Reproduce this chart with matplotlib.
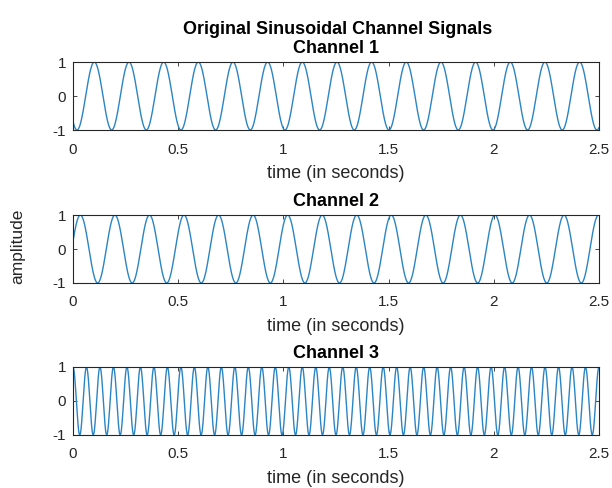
import numpy as np
import matplotlib
matplotlib.use("Agg")
import matplotlib.pyplot as plt

plt.rcParams['font.family'] = ['Liberation Sans', 'DejaVu Sans']

# Signal parameters for the three channels
duration = 2.5
fs = 1000
channel_names = ["Channel 1", "Channel 2", "Channel 3"]
channel_freqs = [6.07, 6.09, 15.6]        # Hz
channel_delays = [0.019, 0.035, 0.0]       # time of first extremum (s)
channel_signs = [-1.0, 1.0, 1.0]           # trough-first or peak-first
xticks = [0, 0.5, 1, 1.5, 2, 2.5]
xticklabels = ["0", "0.5", "1", "1.5", "2", "2.5"]
yticks = [-1, 0, 1]
yticklabels = ["-1", "0", "1"]

t = np.arange(0, duration + 1 / fs, 1 / fs)

fig = plt.figure(figsize=(6.12, 4.88), dpi=100)
W, H = 612, 488
# axes boxes in pixels: left, top, right, bottom
boxes = [(73, 62, 599, 130), (73, 215, 599, 283), (73, 367, 599, 435)]

line_color = "#2b85c2"
edge = "#262626"

for name, f, d, s, (l, tp, r, b) in zip(channel_names, channel_freqs,
                                        channel_delays, channel_signs, boxes):
    ax = fig.add_axes([l / W, 1 - b / H, (r - l) / W, (b - tp) / H])
    y = s * np.cos(2 * np.pi * f * (t - d))
    ax.plot(t, y, color=line_color, lw=1.0)
    ax.set_xlim(0, duration)
    ax.set_ylim(-1, 1)
    ax.set_xticks(xticks)
    ax.set_xticklabels(xticklabels)
    ax.set_yticks(yticks)
    ax.set_yticklabels(yticklabels)
    ax.tick_params(direction="in", top=True, right=True, length=3,
                   width=0.6, colors=edge, labelsize=11)
    ax.tick_params(axis="x", pad=9)
    ax.tick_params(axis="y", pad=5)
    for sp in ax.spines.values():
        sp.set_color(edge)
        sp.set_linewidth(0.8)
    ax.set_title(name, fontsize=13, fontweight="bold", pad=6.5, color="black")
    ax.set_xlabel("time (in seconds)", fontsize=13, color=edge, labelpad=6)

fig.text(338 / W, 1 - 30 / H, "Original Sinusoidal Channel Signals",
         ha="center", va="center", fontsize=13, fontweight="bold")
fig.text(18 / W, 1 - 246 / H, "amplitude", ha="center", va="center",
         rotation=90, fontsize=12.5, color=edge)

fig.savefig("out.png", dpi=100, facecolor="white")
